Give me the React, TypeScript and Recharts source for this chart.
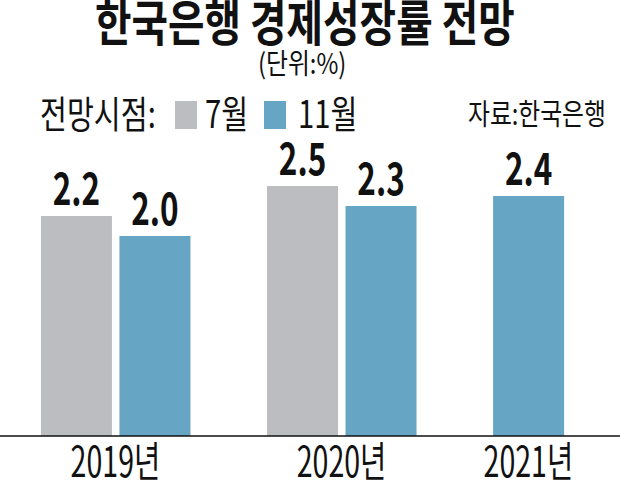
import React from 'react';
import { BarChart, Bar, XAxis, YAxis, Cell, LabelList } from 'recharts';

const years = ['2019년', '2020년', '2021년'];
const julyValues: (number | null)[] = [2.2, 2.5, null];
const novValues: (number | null)[] = [2.0, 2.3, 2.4];
const seriesNames = ['7월', '11월'];
const seriesColors = ['#bbbdc0', '#66a5c4'];

const FONT = '"Noto Sans CJK KR", "Noto Sans", sans-serif';

// bar slots on a numeric axis: 1 unit = one bar pitch, groups separated by a wider gap
const GROUP_GAP = 1.88;
const PITCH_PX = 78.5;
const FIRST_PX = 76.2;

type Row = { x: number; value: number; series: number };

const rows: Row[] = [];
const groupCenters: number[] = [];
let cursor = 0;
years.forEach((_, i) => {
  const vals = [julyValues[i], novValues[i]];
  const present = vals.map((v, s) => ({ v, s })).filter((d) => d.v != null);
  const start = cursor;
  present.forEach((d, k) => rows.push({ x: start + k, value: d.v as number, series: d.s }));
  groupCenters.push(start + (present.length - 1) / 2);
  cursor = start + present.length - 1 + GROUP_GAP;
});

const domainMin = -FIRST_PX / PITCH_PX;
const domainMax = (620 - FIRST_PX) / PITCH_PX;

const ValueLabel = (props: any) => {
  const { x, y, width, value } = props;
  return (
    <g transform={`translate(${x + width / 2}, ${y - 11}) scale(0.7, 1)`}>
      <text textAnchor="middle" fontSize={45} fontWeight={700} fill="#111" fontFamily={FONT}>
        {Number(value).toFixed(1)}
      </text>
    </g>
  );
};

const YearTick = (props: any) => {
  const { x, y, index } = props;
  return (
    <g transform={`translate(${x}, ${y + 41}) scale(0.68, 1)`}>
      <text textAnchor="middle" fontSize={42} fill="#111" fontFamily={FONT}>
        {years[index]}
      </text>
    </g>
  );
};

const squeeze = (s: number): React.CSSProperties => ({
  display: 'inline-block',
  transform: `scaleX(${s})`,
  transformOrigin: 'left center',
  whiteSpace: 'nowrap',
});

export default function App() {
  return (
    <div style={{ position: 'absolute', left: 0, top: 0, width: 620, height: 480, background: '#fff', fontFamily: FONT, color: '#111', overflow: 'hidden' }}>
      <div style={{ position: 'absolute', left: 95, top: -5, fontSize: 49, fontWeight: 700, lineHeight: '49px', ...squeeze(0.81) }}>
        한국은행 경제성장률 전망
      </div>
      <div style={{ position: 'absolute', left: 258, top: 48, fontSize: 28, lineHeight: '28px', ...squeeze(0.85) }}>
        (단위:%)
      </div>
      <div style={{ position: 'absolute', left: 40, top: 93, fontSize: 38, lineHeight: '38px', ...squeeze(0.77) }}>
        전망시점:
      </div>
      {seriesNames.map((name, i) => (
        <React.Fragment key={name}>
          <div style={{ position: 'absolute', left: i === 0 ? 175 : 264, top: 101, width: 22, height: 28, background: seriesColors[i] }} />
          <div style={{ position: 'absolute', left: i === 0 ? 205 : 298, top: 93, fontSize: 38, lineHeight: '38px', ...squeeze(0.77) }}>
            {name}
          </div>
        </React.Fragment>
      ))}
      <div style={{ position: 'absolute', left: 468, top: 98, fontSize: 29, lineHeight: '29px', ...squeeze(0.82) }}>
        자료:한국은행
      </div>
      <div style={{ position: 'absolute', left: 0, top: 0 }}>
        <BarChart width={620} height={480} data={rows} margin={{ top: 136, right: 0, bottom: 0, left: 0 }}>
          <XAxis
            dataKey="x"
            type="number"
            domain={[domainMin, domainMax]}
            allowDataOverflow
            ticks={groupCenters}
            interval={0}
            height={44}
            tickSize={0}
            tickMargin={0}
            tickLine={false}
            axisLine={{ stroke: '#111', strokeWidth: 1.5 }}
            tick={<YearTick />}
          />
          <YAxis hide domain={[0, 3]} />
          <Bar dataKey="value" barSize={71} isAnimationActive={false}>
            {rows.map((r, i) => (
              <Cell key={i} fill={seriesColors[r.series]} />
            ))}
            <LabelList dataKey="value" content={<ValueLabel />} />
          </Bar>
        </BarChart>
      </div>
    </div>
  );
}
